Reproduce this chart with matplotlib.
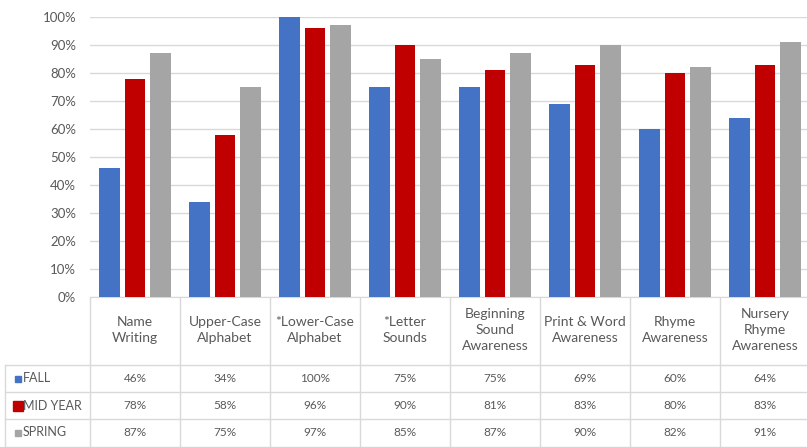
import matplotlib.pyplot as plt
import numpy as np

categories = ['Name\nWriting', 'Upper-Case\nAlphabet', '*Lower-Case\nAlphabet', '*Letter\nSounds',
              'Beginning\nSound\nAwareness', 'Print & Word\nAwareness', 'Rhyme\nAwareness',
              'Nursery\nRhyme\nAwareness']
series_names = ['FALL', 'MID YEAR', 'SPRING']
fall = [46, 34, 100, 75, 75, 69, 60, 64]
mid_year = [78, 58, 96, 90, 81, 83, 80, 83]
spring = [87, 75, 97, 85, 87, 90, 82, 91]
y_ticks = [0, 10, 20, 30, 40, 50, 60, 70, 80, 90, 100]

colors = ['#4472C4', '#C00000', '#A5A5A5']
text_col = '#595959'
grid_col = '#D9D9D9'
plt.rcParams['font.family'] = ['Lato', 'DejaVu Sans']

W, H = 807, 447
fig = plt.figure(figsize=(W / 100, H / 100), dpi=100)

# bar area, one category = 90 px
x_right = (W - 90) / 90
ax = fig.add_axes([90 / W, 150 / H, (W - 90) / W, 280 / H])
x = np.arange(len(categories)) + 0.5
width = 0.23
offsets = [-0.285, 0, 0.285]
for vals, off, c in zip([fall, mid_year, spring], offsets, colors):
    ax.bar(x + off, vals, width, color=c, zorder=3, clip_on=False)

ax.set_xlim(0, x_right)
ax.set_ylim(0, 100)
ax.set_yticks(y_ticks)
ax.set_yticklabels([f'{t}%' for t in y_ticks])
ax.tick_params(axis='y', length=0, labelsize=9.5, labelcolor=text_col, pad=10)
ax.set_xticks([])
ax.grid(axis='y', color=grid_col, lw=1, zorder=0)
for s in ['top', 'right', 'left']:
    ax.spines[s].set_visible(False)
ax.spines['bottom'].set_color(grid_col)

# data table underneath
tab = fig.add_axes([0, 0, 1, 150 / H])
tab.set_xlim(-1, x_right)
tab.set_ylim(0, 150)
tab.axis('off')
left = -1 + 5 / 90
for i in range(len(categories) + 1):
    tab.plot([i, i], [0, 150], color=grid_col, lw=1)
tab.plot([left, left], [0, 82], color=grid_col, lw=1)
for yy in [82, 55, 28, 0.5]:
    tab.plot([left, x_right], [yy, yy], color=grid_col, lw=1)

for i, cat in enumerate(categories):
    tab.text(i + 0.5, 117, cat, ha='center', va='center', fontsize=10,
             color=text_col, linespacing=1.45)

row_y = [68.5, 41.5, 14.5]
for vals, name, c, ry, ms in zip([fall, mid_year, spring], series_names, colors, row_y, [4.5, 6.5, 4.5]):
    tab.plot(left + 0.14, ry, marker='s', ms=ms, color=c, ls='none')
    tab.text(left + 0.2, ry, name, ha='left', va='center', fontsize=9, color=text_col)
    for i, v in enumerate(vals):
        tab.text(i + 0.5, ry, f'{v}%', ha='center', va='center', fontsize=8.5, color=text_col)

fig.savefig('out.png', dpi=100)
